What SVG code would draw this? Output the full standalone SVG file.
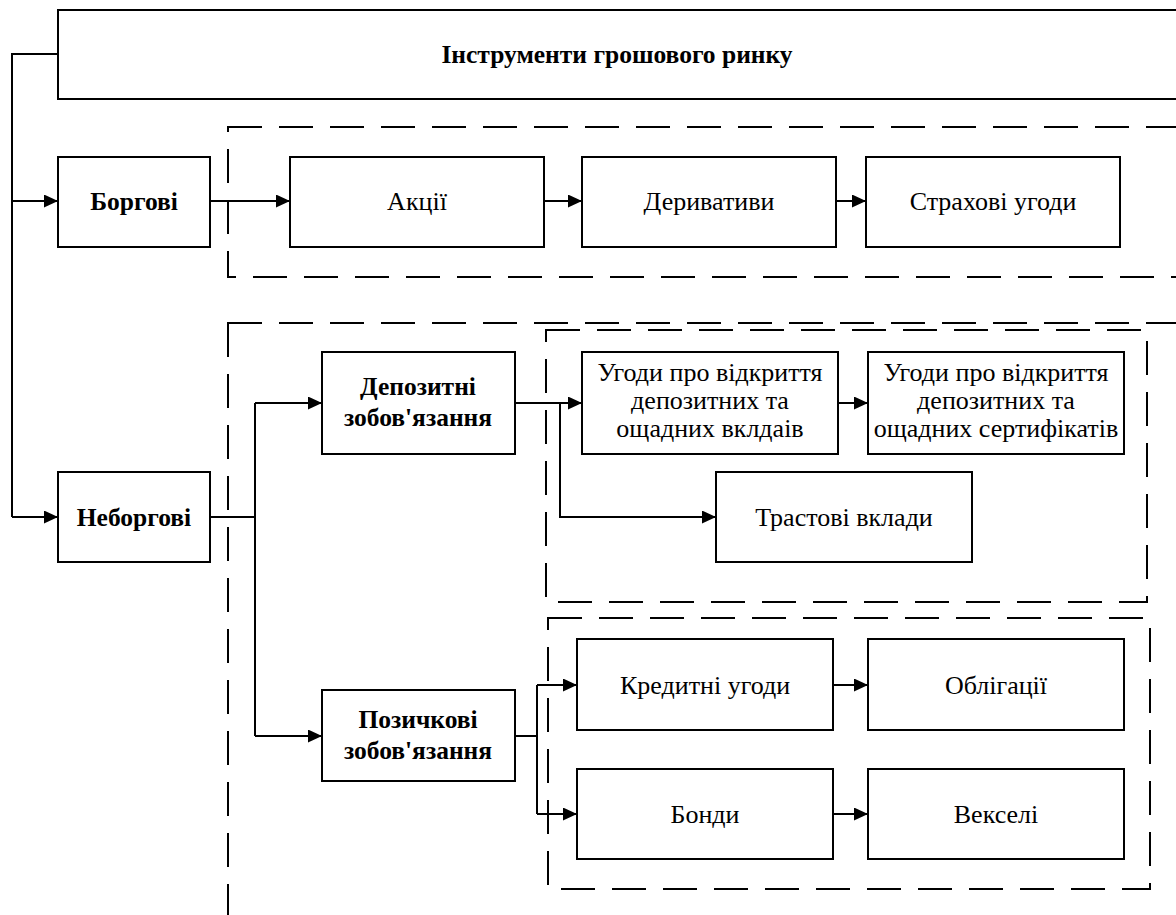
<svg xmlns="http://www.w3.org/2000/svg" width="1176" height="915" viewBox="0 0 1176 915">
<defs>
<marker id="arr" markerUnits="userSpaceOnUse" markerWidth="14" markerHeight="13" refX="14" refY="6.5" orient="auto">
<path d="M0,0 L14,6.5 L0,13 z" fill="#000"/>
</marker>
<style>
.box{fill:#fff;stroke:#000;stroke-width:2}
.dash{fill:none;stroke:#000;stroke-width:2;stroke-dasharray:34 17}
.con{fill:none;stroke:#000;stroke-width:2}
.b{font-weight:bold;font-size:25.5px;text-anchor:middle;fill:#000}
.r{font-size:26px;text-anchor:middle;fill:#000}
</style>
</defs>
<rect width="1176" height="915" fill="#fff"/>
<g id="groups">
<rect class="dash" x="228" y="127" width="1000" height="150"/>
<rect class="dash" x="228" y="323" width="1000" height="700"/>
<rect class="dash" x="546" y="330" width="601" height="272"/>
<rect class="dash" x="548" y="618" width="602" height="271"/>
</g>
<g id="connectors">
<path class="con" d="M58,54 H12 V517"/>
<path class="con" d="M12,201 H58" marker-end="url(#arr)"/>
<path class="con" d="M12,517 H58" marker-end="url(#arr)"/>
<path class="con" d="M210,201 H290" marker-end="url(#arr)"/>
<path class="con" d="M544,201 H582" marker-end="url(#arr)"/>
<path class="con" d="M836,201 H866" marker-end="url(#arr)"/>
<path class="con" d="M210,517 H255"/>
<path class="con" d="M255,403 V736"/>
<path class="con" d="M255,403 H322" marker-end="url(#arr)"/>
<path class="con" d="M255,736 H322" marker-end="url(#arr)"/>
<path class="con" d="M515,403 H582" marker-end="url(#arr)"/>
<path class="con" d="M560,403 V517 H716" marker-end="url(#arr)"/>
<path class="con" d="M838,403 H868" marker-end="url(#arr)"/>
<path class="con" d="M515,736 H537"/>
<path class="con" d="M537,685 V814"/>
<path class="con" d="M537,685 H577" marker-end="url(#arr)"/>
<path class="con" d="M537,814 H577" marker-end="url(#arr)"/>
<path class="con" d="M833,685 H868" marker-end="url(#arr)"/>
<path class="con" d="M833,814 H868" marker-end="url(#arr)"/>
</g>
<g id="nodes" font-family="'Liberation Serif', 'Times New Roman', serif">
<g id="n-title"><rect class="box" x="58" y="10" width="1200" height="89"/><text class="b" x="617" y="63">Інструменти грошового ринку</text></g>
<g id="n-borgovi"><rect class="box" x="58" y="157" width="152" height="90"/><text class="b" x="134" y="210">Боргові</text></g>
<g id="n-aktsii"><rect class="box" x="290" y="157" width="254" height="90"/><text class="r" x="417" y="210">Акції</text></g>
<g id="n-deryvatyvy"><rect class="box" x="582" y="157" width="254" height="90"/><text class="r" x="709" y="210">Деривативи</text></g>
<g id="n-strakhovi"><rect class="box" x="866" y="157" width="254" height="90"/><text class="r" x="993" y="210">Страхові угоди</text></g>
<g id="n-neborgovi"><rect class="box" x="58" y="472" width="152" height="90"/><text class="b" x="134" y="526">Неборгові</text></g>
<g id="n-depozytni"><rect class="box" x="322" y="352" width="193" height="102"/><text class="b" x="418" y="395">Депозитні</text><text class="b" x="418" y="426">зобов'язання</text></g>
<g id="n-ugody1"><rect class="box" x="582" y="352" width="256" height="102"/><text class="r" x="710" y="381">Угоди про відкриття</text><text class="r" x="710" y="409">депозитних та</text><text class="r" x="710" y="437">ощадних вклдаів</text></g>
<g id="n-ugody2"><rect class="box" x="868" y="352" width="256" height="102"/><text class="r" x="996" y="381">Угоди про відкриття</text><text class="r" x="996" y="409">депозитних та</text><text class="r" x="996" y="437">ощадних сертифікатів</text></g>
<g id="n-trastovi"><rect class="box" x="716" y="472" width="256" height="90"/><text class="r" x="844" y="526">Трастові вклади</text></g>
<g id="n-pozychkovi"><rect class="box" x="322" y="690" width="193" height="91"/><text class="b" x="418" y="728">Позичкові</text><text class="b" x="418" y="759">зобов'язання</text></g>
<g id="n-kredytni"><rect class="box" x="577" y="639" width="256" height="91"/><text class="r" x="705" y="694">Кредитні угоди</text></g>
<g id="n-oblihatsii"><rect class="box" x="868" y="639" width="256" height="91"/><text class="r" x="996" y="694">Облігації</text></g>
<g id="n-bondy"><rect class="box" x="577" y="769" width="256" height="90"/><text class="r" x="705" y="823">Бонди</text></g>
<g id="n-vekseli"><rect class="box" x="868" y="769" width="256" height="90"/><text class="r" x="996" y="823">Векселі</text></g>
</g>
</svg>
